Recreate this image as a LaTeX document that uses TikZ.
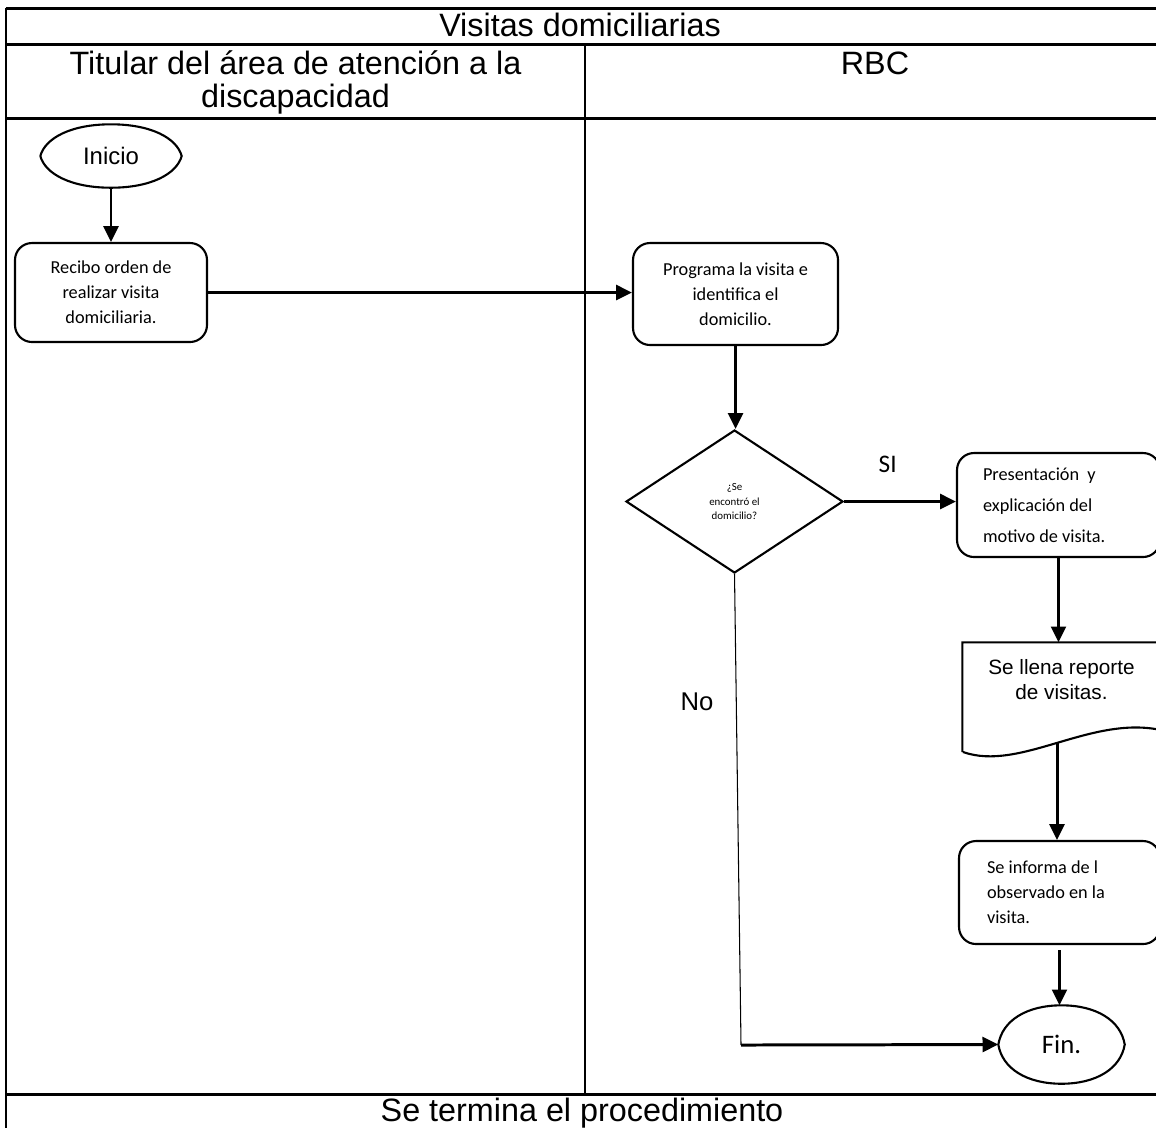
\documentclass[tikz,border=0pt]{standalone}
\usepackage{fontspec}
\setmainfont{Liberation Sans}
\newfontfamily\carlito{Carlito}
\usetikzlibrary{shapes.geometric,arrows.meta}

\begin{document}
\begin{tikzpicture}[
    linea/.style={line width=0.85pt},
    cabecera/.style={inner sep=0pt, font=\fontsize{9.2}{9.4}\selectfont},
    caja/.style={draw, line width=0.6pt, rounded corners=0.17cm, inner sep=0pt,
                 font=\carlito\fontsize{5.2}{7.1}\selectfont},
    flecha/.style={line width=0.85pt, -{Triangle[length=4.5pt,width=4.2pt]}},
    borde/.style={line width=0.6pt}
  ]
    \useasboundingbox (0,0) rectangle (11.56,-11.28);

    % -----------------------------------------------------
    % 1) Tabla: encabezados y columnas
    % -----------------------------------------------------
    \draw[linea] (0.06,-0.082) -- (11.56,-0.082);
    \draw[linea] (0.06,-0.448) -- (11.56,-0.448);
    \draw[linea] (0.06,-1.188) -- (11.56,-1.188);
    \draw[linea] (0.06,-10.94) -- (11.56,-10.94);
    \draw[linea] (0.06,-0.082) -- (0.06,-11.28);
    \draw[borde] (5.853,-0.448) -- (5.853,-10.94);

    \node[cabecera] (titulo) at (5.80,-0.25) {Visitas domiciliarias};
    \node[cabecera, align=center] (titular) at (2.955,-0.82)
        {Titular del área de atención a la\\discapacidad};
    \node[cabecera] (rbc) at (8.75,-0.635) {RBC};
    \node[cabecera] (cierre) at (5.82,-11.135) {Se termina el procedimiento};

    % -----------------------------------------------------
    % 2) Inicio (terminal) y primera actividad
    % -----------------------------------------------------
    \node[ellipse, minimum width=1.40cm, minimum height=0.62cm, inner sep=0pt,
          font=\fontsize{6.8}{8}\selectfont] (ini) at (1.11,-1.56) {Inicio};
    \draw[borde] (ini.west) .. controls +(0.05,0.18) and +(-0.40,0) .. (ini.north)
        .. controls +(0.40,0) and +(-0.05,0.18) .. (ini.east)
        .. controls +(-0.05,-0.18) and +(0.40,0) .. (ini.south)
        .. controls +(-0.40,0) and +(0.05,-0.18) .. (ini.west);

    \node[caja, minimum width=1.92cm, minimum height=0.99cm, align=center]
        (rec) at (1.11,-2.925) {Recibo orden de\\realizar visita\\domiciliaria.};
    \draw[flecha] (ini.south) -- (rec.north);

    % -----------------------------------------------------
    % 3) RBC: programa la visita y decide
    % -----------------------------------------------------
    \node[caja, minimum width=2.05cm, minimum height=1.02cm, align=center]
        (prog) at (7.355,-2.94) {Programa la visita e\\identifica el\\domicilio.};
    \draw[flecha] (rec.east) -- (rec.east -| prog.west);

    \node[draw, diamond, aspect=1.52, minimum width=2.17cm, minimum height=1.43cm,
          inner sep=0pt, line width=0.6pt, align=center,
          font=\carlito\fontsize{3.1}{4.25}\selectfont]
        (dec) at (7.345,-5.015) {¿Se\\encontró el\\domicilio?};
    \draw[flecha] (prog.south) -- (prog.south |- dec.north);

    % -----------------------------------------------------
    % 4) Rama SI: presentación, reporte e informe
    % -----------------------------------------------------
    \node[caja, minimum height=1.04cm, text width=1.51cm, inner xsep=0.26cm,
          align=flush left, font=\carlito\fontsize{5.2}{8.8}\selectfont]
        (pres) at (10.585,-5.05) {Presentación~ y\\explicación del\\motivo de visita.};
    \draw[flecha] (dec.east) -- (dec.east -| pres.west)
        node[pos=0.39, yshift=0.37cm, font=\carlito\fontsize{7.2}{8}\selectfont] (si) {SI};

    % documento: reporte de visitas (borde inferior ondulado)
    \node[minimum width=1.97cm, minimum height=0.74cm, inner sep=0pt, align=center,
          font=\fontsize{5.9}{7.1}\selectfont]
        (doc) at (10.615,-6.80) {Se llena reporte\\de visitas.};
    \draw[borde] (doc.north west |- 0,-7.52) -- (doc.north west) -- (doc.north east)
        -- (doc.north east |- 0,-7.30)
        .. controls +(-0.70,0.15) and +(0.57,-0.20) .. (9.63,-7.52)
        coordinate[pos=0.5] (base);
    \draw[flecha] (pres.south) -- (pres.south |- doc.north);

    \node[caja, minimum height=1.03cm, text width=1.45cm, inner xsep=0.28cm,
          align=flush left] (info) at (10.595,-8.925)
        {Se informa de l\\observado en la\\visita.};
    \draw[flecha] (base) -- (base |- info.north);

    % -----------------------------------------------------
    % 5) Fin y rama No
    % -----------------------------------------------------
    \node[ellipse, minimum width=1.25cm, minimum height=0.77cm, inner sep=0pt,
          font=\carlito\fontsize{7.6}{9}\selectfont] (fin) at (10.615,-10.445) {Fin.};
    \draw[borde] (fin.west) .. controls +(0.04,0.24) and +(-0.35,0) .. (fin.north)
        .. controls +(0.35,0) and +(-0.04,0.24) .. (fin.east)
        .. controls +(-0.04,-0.24) and +(0.35,0) .. (fin.south)
        .. controls +(-0.35,0) and +(0.04,-0.24) .. (fin.west);
    \draw[flecha, shorten <=1.5pt] (info.south) -- (info.south |- fin.north);

    \coordinate (giro) at (7.41,-10.45);
    \draw[line width=0.3pt] (dec.south) -- (giro);
    \draw[flecha] (giro) -- (fin.west);
    \node[font=\fontsize{7.3}{8}\selectfont] (no) at (6.97,-7.02) {No};

\end{tikzpicture}
\end{document}
